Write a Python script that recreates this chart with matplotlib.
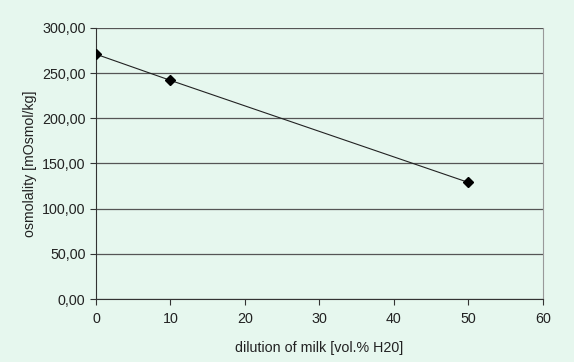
import matplotlib.pyplot as plt
from matplotlib.ticker import FuncFormatter

plt.rcParams['font.family'] = ['Liberation Sans', 'DejaVu Sans']

# data
dilution = [0, 10, 50]
osmolality = [271, 242, 129]
y_ticks = [0, 50, 100, 150, 200, 250, 300]
x_ticks = [0, 10, 20, 30, 40, 50, 60]

bg = '#e6f7ee'
fig = plt.figure(figsize=(5.74, 3.62), dpi=100, facecolor=bg)
ax = fig.add_axes([0.1672, 0.174, 0.7788, 0.7487], facecolor=bg)

ax.plot(dilution, osmolality, color='#222222', linewidth=0.8,
        marker='D', markersize=5, markerfacecolor='black', markeredgecolor='black', zorder=3)

ax.set_xlim(0, 60)
ax.set_ylim(0, 300)
ax.set_xticks(x_ticks)
ax.set_yticks(y_ticks)
ax.yaxis.set_major_formatter(FuncFormatter(lambda v, p: f'{v:.2f}'.replace('.', ',')))
ax.grid(axis='y', color='#555555', linewidth=0.9)
ax.set_axisbelow(True)

ax.spines['top'].set_visible(False)
ax.spines['right'].set_color('#999999')
ax.spines['left'].set_color('#333333')
ax.spines['bottom'].set_color('#333333')
ax.tick_params(direction='out', length=4, width=0.8, color='#333333',
               labelsize=10.3, labelcolor='#222222')
ax.tick_params(axis='x', pad=5)

ax.set_xlabel('dilution of milk [vol.% H20]', fontsize=10.3, color='#222222', labelpad=11)
ax.set_ylabel('osmolality [mOsmol/kg]', fontsize=10.2, color='#222222', labelpad=4)

fig.savefig('out.png', dpi=100, facecolor=bg)
